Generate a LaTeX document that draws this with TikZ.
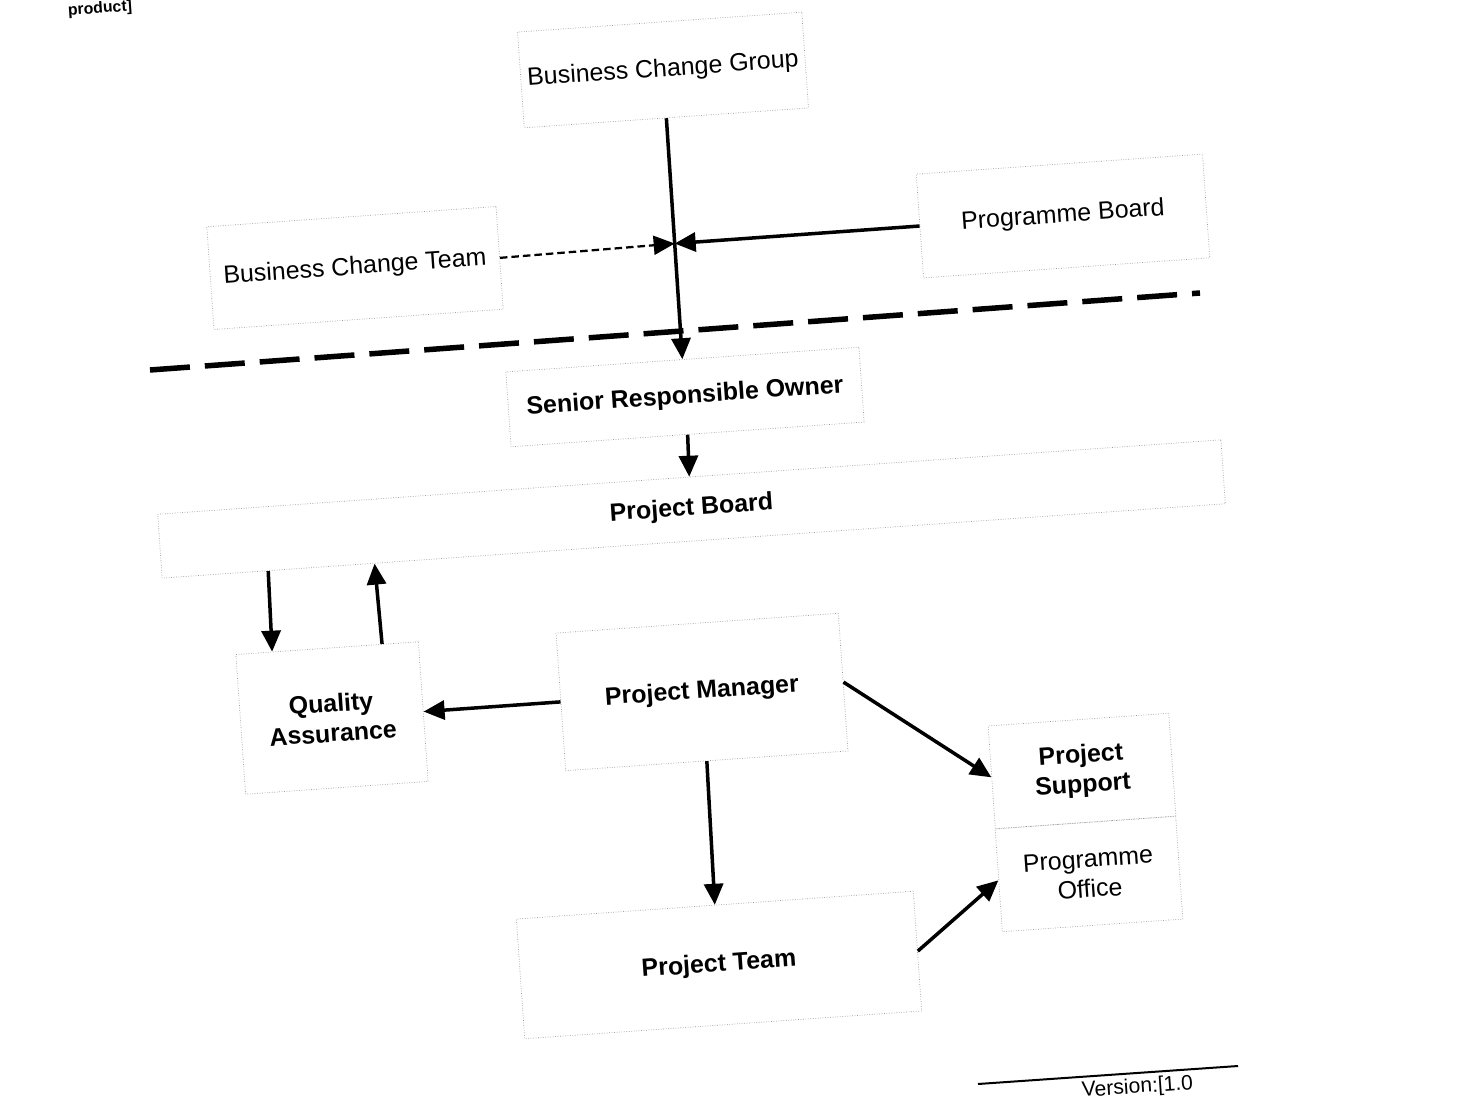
\documentclass[tikz,border=0pt]{standalone}
\usepackage{fontspec}
\setmainfont{Liberation Sans}
\usetikzlibrary{arrows.meta,calc}
\newcommand{\labelsize}{\fontsize{14.2pt}{17pt}\selectfont}

\begin{document}
\begin{tikzpicture}[x=0.02cm, y=-0.02cm, every node/.style = {shape=rectangle, draw=black!40, densely dotted, align=center, inner sep=0pt, rotate=4, font=\labelsize}]
	\tikzset{ strong/.style = {font=\labelsize\bfseries} }
	\tikzstyle{flow}=[line width=0.07cm, solid, -{Triangle[length=0.42cm,width=0.38cm]}]
	\tikzstyle{loose}=[line width=0.045cm, dash pattern=on 0.15cm off 0.08cm, -{Triangle[length=0.42cm,width=0.38cm]}]
	\useasboundingbox[fill=white] (0,0) rectangle (1463,1104);
	\clip (0,0) rectangle (1463,1104);
	% boxes
	\node [draw=none, font=\fontsize{9pt}{10pt}\selectfont\bfseries] (head) at (100,9) {product]};
	\node [minimum width=5.7cm, minimum height=1.92cm] (bcg) at (663,70) {Business Change Group};
	\node [minimum width=5.8cm, minimum height=2.06cm] (bct) at (355,268) {Business Change Team};
	\node [minimum width=5.74cm, minimum height=2.08cm] (pgb) at (1063,216) {Programme Board};
	\node [strong, minimum width=7.08cm, minimum height=1.5cm] (sro) at (685,397) {Senior Responsible Owner};
	\node [strong, minimum width=21.32cm, minimum height=1.28cm] (pjb) at (691.5,509) {Project Board};
	\node [strong, minimum width=3.66cm, minimum height=2.8cm] (qa) at (332,718) {Quality\\Assurance};
	\node [strong, minimum width=5.66cm, minimum height=2.76cm] (pm) at (702,692) {Project Manager};
	\node [strong, minimum width=3.62cm, minimum height=2.06cm] (ps) at (1082,771) {Project\\Support};
	\node [minimum width=3.62cm, minimum height=2.06cm] (po) at (1089,874) {Programme\\Office};
	\node [strong, minimum width=7.96cm, minimum height=2.4cm] (pt) at (719,965) {Project Team};
	% programme / project split
	\coordinate (sepL) at (150,370);
	\coordinate (sepR) at (1200,293);
	\draw [line width=0.11cm, dash pattern=on 0.8cm off 0.3cm] (sepL) -- (sepR);
	% connectors
	\coordinate (jn) at ($(bcg.south)!0.52!(sro.north)$);
	\draw [flow] (bcg.south) -- (sro.north);
	\draw [flow] (pgb.west) -- (jn);
	\draw [loose] (bct.east) -- (jn);
	\draw [flow] (sro.south) -- (pjb.north);
	\draw [flow] ($(pjb.south west)!0.1!(pjb.south east)$) -- ($(qa.north west)!0.2!(qa.north east)$);
	\draw [flow] ($(qa.north west)!0.8!(qa.north east)$) -- ($(pjb.south west)!0.2!(pjb.south east)$);
	\draw [flow] (pm.west) -- (qa.east);
	\draw [flow] (pm.east) -- (ps.west);
	\draw [flow] (pm.south) -- (pt.north);
	\draw [flow] (pt.east) -- (po.west);
	% footer
	\coordinate (ftL) at (978,1084);
	\coordinate (ftR) at (1238,1066);
	\draw [line width=0.04cm] (ftL) -- (ftR);
	\node [draw=none, anchor=base west, font=\fontsize{12pt}{14pt}\selectfont] (ver) at (1082,1097) {Version:[1.0};
\end{tikzpicture}
\end{document}
